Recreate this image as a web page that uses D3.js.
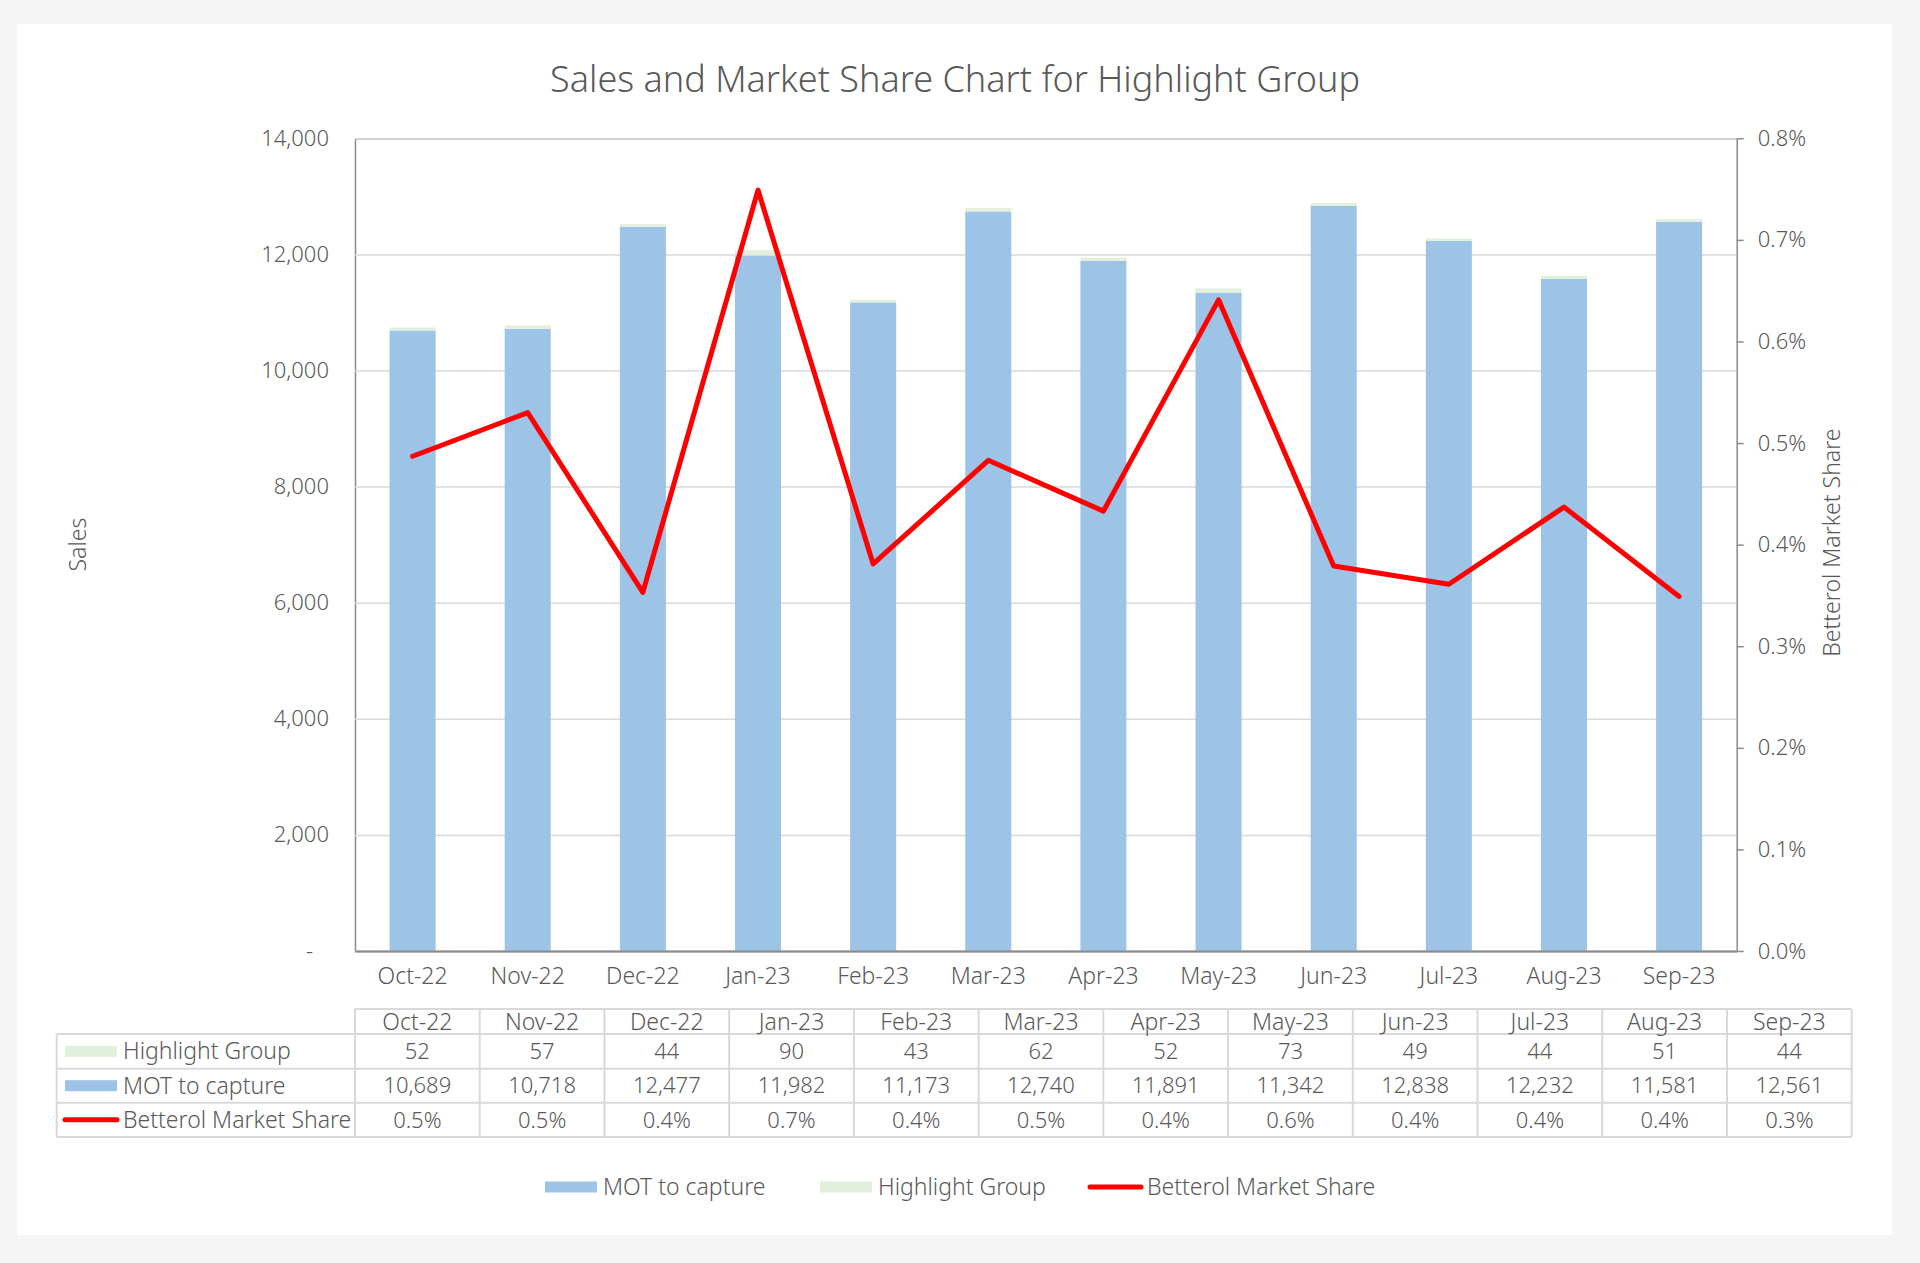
<!DOCTYPE html>
<html>
<head>
<meta charset="utf-8">
<script src="https://cdn.jsdelivr.net/npm/d3@7"></script>
<style>
  body { margin: 0; background: #f5f5f5; }
  text { font-family: "Noto Sans", "Open Sans", sans-serif; font-weight: 300; fill: #595959; }
</style>
</head>
<body>
<svg id="chart"></svg>
<script>
//chart data
const months = ["Oct-22", "Nov-22", "Dec-22", "Jan-23", "Feb-23", "Mar-23",
                "Apr-23", "May-23", "Jun-23", "Jul-23", "Aug-23", "Sep-23"];
const highlightGroup = [52, 57, 44, 90, 43, 62, 52, 73, 49, 44, 51, 44];
const motToCapture = [10689, 10718, 12477, 11982, 11173, 12740, 11891, 11342, 12838, 12232, 11581, 12561];
const marketShare = [0.00487, 0.00530, 0.00353, 0.00749, 0.00381, 0.00483,
                     0.00433, 0.00641, 0.00379, 0.00361, 0.00437, 0.00349];
const salesTicks = [0, 2000, 4000, 6000, 8000, 10000, 12000, 14000];
const shareTicks = [0, 0.001, 0.002, 0.003, 0.004, 0.005, 0.006, 0.007, 0.008];

const seriesNames = ["MOT to capture", "Highlight Group", "Betterol Market Share"];
const colors = { mot: "#9dc3e6", highlight: "#e2efda", share: "#ff0000" };

//set up SVG dimensions
const w = 1920, h = 1263;
const svg = d3.select("#chart").attr("width", w).attr("height", h);

//white chart panel
svg.append("rect")
    .attr("x", 17).attr("y", 24)
    .attr("width", 1875).attr("height", 1211)
    .attr("fill", "#fff");

//plot area
const plot = { left: 355, right: 1736.7, top: 138.3, bottom: 951 };

//scales
const x = d3.scaleBand()
    .domain(months)
    .range([plot.left, plot.right])
    .paddingInner(0.6)
    .paddingOuter(0.3);

const ySales = d3.scaleLinear().domain([0, 14000]).range([plot.bottom, plot.top]);
const yShare = d3.scaleLinear().domain([0, 0.008]).range([plot.bottom, plot.top]);

//title
svg.append("text")
    .attr("x", 955).attr("y", 92)
    .attr("text-anchor", "middle")
    .style("font-size", "36px")
    .text("Sales and Market Share Chart for Highlight Group");

//left axis with gridlines
const leftAxis = svg.append("g")
    .attr("transform", `translate(${plot.left},0)`)
    .call(d3.axisLeft(ySales)
        .tickValues(salesTicks)
        .tickSize(-(plot.right - plot.left))
        .tickPadding(26)
        .tickFormat(d => d === 0 ? "-" : d3.format(",")(d)));
leftAxis.select(".domain").attr("stroke", "#8c8c8c").attr("stroke-width", 1.5);
leftAxis.selectAll(".tick line").attr("stroke", "#d9d9d9").attr("stroke-width", 1.5);
leftAxis.selectAll(".tick text")
    .style("font-size", "22px").attr("fill", "#595959")
    .filter(d => d === 0).attr("dx", -16);

//stacked bars
const rows = months.map((m, i) => ({ month: m, mot: motToCapture[i], highlight: highlightGroup[i] }));
const stacked = d3.stack().keys(["mot", "highlight"])(rows);

svg.append("g")
    .selectAll("g")
    .data(stacked)
    .join("g")
    .attr("fill", d => colors[d.key])
    .selectAll("rect")
    .data(d => d)
    .join("rect")
    .attr("x", d => x(d.data.month))
    .attr("width", x.bandwidth())
    .attr("y", d => ySales(d[1]))
    .attr("height", d => ySales(d[0]) - ySales(d[1]));

//bottom axis
const bottomAxis = svg.append("g")
    .attr("transform", `translate(0,${plot.bottom})`)
    .call(d3.axisBottom(x).tickSize(0).tickPadding(17));
bottomAxis.select(".domain").attr("stroke", "#8c8c8c").attr("stroke-width", 2);
bottomAxis.selectAll(".tick text").style("font-size", "23px").attr("fill", "#595959");

//right axis
const rightAxis = svg.append("g")
    .attr("transform", `translate(${plot.right},0)`)
    .call(d3.axisRight(yShare)
        .tickValues(shareTicks)
        .tickSizeInner(7)
        .tickSizeOuter(0)
        .tickPadding(14)
        .tickFormat(d3.format(".1%")));
rightAxis.select(".domain").attr("stroke", "#8c8c8c").attr("stroke-width", 1.5);
rightAxis.selectAll(".tick line").attr("stroke", "#8c8c8c").attr("stroke-width", 1.5);
rightAxis.selectAll(".tick text").style("font-size", "22px").attr("fill", "#595959");

//market share line
const line = d3.line()
    .x((d, i) => x(months[i]) + x.bandwidth() / 2)
    .y(d => yShare(d));

svg.append("path")
    .datum(marketShare)
    .attr("d", line)
    .attr("fill", "none")
    .attr("stroke", colors.share)
    .attr("stroke-width", 5)
    .attr("stroke-linejoin", "round")
    .attr("stroke-linecap", "round");

//axis titles
svg.append("text")
    .attr("transform", `translate(86,${(plot.top + plot.bottom) / 2}) rotate(-90)`)
    .attr("text-anchor", "middle")
    .style("font-size", "23px")
    .text("Sales");

svg.append("text")
    .attr("transform", `translate(1840,${(plot.top + plot.bottom) / 2 - 2}) rotate(-90)`)
    .attr("text-anchor", "middle")
    .style("font-size", "23px")
    .text("Betterol Market Share");

//data table
const table = svg.append("g");
const col = d3.scaleBand().domain(months).range([plot.left, 1851.7]);
const rowEdges = [1009, 1034, 1068.7, 1102.7, 1137];
const tableLeft = 56.7;
const grid = "#d9d9d9";

const tableRows = [
    { name: seriesNames[1], values: highlightGroup, fmt: d3.format(","), key: "highlight" },
    { name: seriesNames[0], values: motToCapture, fmt: d3.format(","), key: "mot" },
    { name: seriesNames[2], values: marketShare, fmt: d3.format(".1%"), key: "share" }
];

//horizontal lines
table.selectAll("line.h")
    .data(rowEdges)
    .join("line")
    .attr("class", "h")
    .attr("x1", (d, i) => i === 0 ? plot.left : tableLeft)
    .attr("x2", col.range()[1])
    .attr("y1", d => d).attr("y2", d => d)
    .attr("stroke", grid).attr("stroke-width", 2);

//vertical lines
const colEdges = months.map(m => col(m)).concat([col.range()[1]]);
table.selectAll("line.v")
    .data(colEdges)
    .join("line")
    .attr("class", "v")
    .attr("x1", d => d).attr("x2", d => d)
    .attr("y1", rowEdges[0]).attr("y2", rowEdges[4])
    .attr("stroke", grid).attr("stroke-width", 2);
table.append("line")
    .attr("x1", tableLeft).attr("x2", tableLeft)
    .attr("y1", rowEdges[1]).attr("y2", rowEdges[4])
    .attr("stroke", grid).attr("stroke-width", 2);

//header labels
table.selectAll("text.head")
    .data(months)
    .join("text")
    .attr("class", "head")
    .attr("x", d => col(d) + col.bandwidth() / 2)
    .attr("y", (rowEdges[0] + rowEdges[1]) / 2)
    .attr("dy", "0.35em")
    .attr("text-anchor", "middle")
    .style("font-size", "23px")
    .text(d => d);

//body rows
tableRows.forEach((r, ri) => {
    const cy = (rowEdges[ri + 1] + rowEdges[ri + 2]) / 2;
    table.selectAll(`text.v${ri}`)
        .data(r.values)
        .join("text")
        .attr("class", `v${ri}`)
        .attr("x", (d, i) => col(months[i]) + col.bandwidth() / 2)
        .attr("y", cy)
        .attr("dy", "0.35em")
        .attr("text-anchor", "middle")
        .style("font-size", "22px")
        .text(d => r.fmt(d));

    //legend key inside table
    if (r.key === "share") {
        table.append("line")
            .attr("x1", 65).attr("x2", 117)
            .attr("y1", cy).attr("y2", cy)
            .attr("stroke", colors.share).attr("stroke-width", 5)
            .attr("stroke-linecap", "round");
    } else {
        table.append("rect")
            .attr("x", 65).attr("y", cy - 5.5)
            .attr("width", 52).attr("height", 11)
            .attr("fill", colors[r.key]);
    }
    table.append("text")
        .attr("x", 123).attr("y", cy).attr("dy", "0.35em")
        .style("font-size", "23px")
        .text(r.name);
});

//bottom legend
const legendY = 1187;
const legendItems = [
    { name: seriesNames[0], key: "mot", x: 545 },
    { name: seriesNames[1], key: "highlight", x: 820 },
    { name: seriesNames[2], key: "share", x: 1088 }
];
const legend = svg.append("g");
legendItems.forEach(d => {
    if (d.key === "share") {
        legend.append("line")
            .attr("x1", d.x + 2).attr("x2", d.x + 53)
            .attr("y1", legendY).attr("y2", legendY)
            .attr("stroke", colors.share).attr("stroke-width", 5)
            .attr("stroke-linecap", "round");
    } else {
        legend.append("rect")
            .attr("x", d.x).attr("y", legendY - 5.5)
            .attr("width", 52).attr("height", 11)
            .attr("fill", colors[d.key]);
    }
    legend.append("text")
        .attr("x", d.x + (d.key === "share" ? 59 : 58))
        .attr("y", legendY).attr("dy", "0.35em")
        .style("font-size", "23px")
        .text(d.name);
});
</script>
</body>
</html>
